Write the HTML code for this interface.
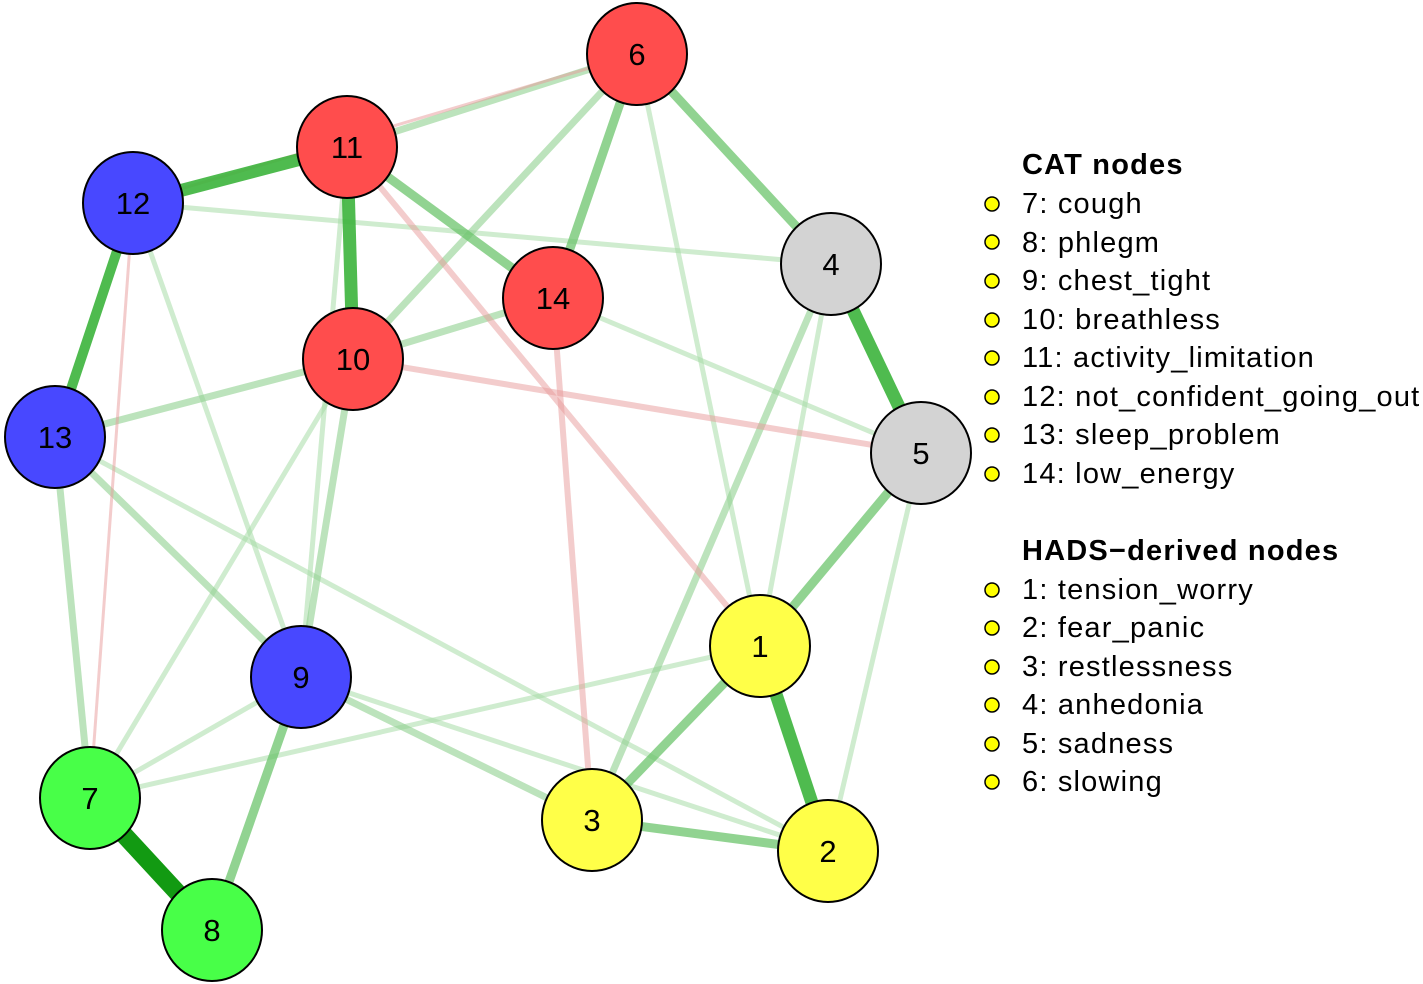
<!DOCTYPE html>
<html><head><meta charset="utf-8"><style>body{margin:0;background:#fff}svg{display:block}text{font-family:"Liberation Sans",sans-serif}</style></head><body>
<svg width="1423" height="984" viewBox="0 0 1423 984" xmlns="http://www.w3.org/2000/svg">
<g stroke-linecap="butt">
<g stroke="#a8dca8" stroke-opacity="0.55" stroke-width="5">
<line x1="637" y1="54" x2="760" y2="646"/>
<line x1="133" y1="203" x2="831" y2="264"/>
<line x1="133" y1="203" x2="301" y2="677"/>
<line x1="353" y1="359" x2="90" y2="798"/>
<line x1="553" y1="298" x2="921" y2="453"/>
<line x1="55" y1="437" x2="828" y2="851"/>
<line x1="831" y1="264" x2="760" y2="646"/>
<line x1="921" y1="453" x2="828" y2="851"/>
<line x1="301" y1="677" x2="828" y2="851"/>
<line x1="90" y1="798" x2="760" y2="646"/>
<line x1="90" y1="798" x2="301" y2="677"/>
<line x1="347" y1="147" x2="301" y2="677"/>
</g>
<g stroke="#8fd08f" stroke-opacity="0.6" stroke-width="7">
<line x1="347" y1="147" x2="637" y2="54"/>
<line x1="637" y1="54" x2="353" y2="359"/>
<line x1="831" y1="264" x2="592" y2="820"/>
<line x1="55" y1="437" x2="90" y2="798"/>
<line x1="55" y1="437" x2="301" y2="677"/>
<line x1="353" y1="359" x2="553" y2="298"/>
<line x1="353" y1="359" x2="301" y2="677"/>
<line x1="55" y1="437" x2="353" y2="359"/>
<line x1="301" y1="677" x2="592" y2="820"/>
</g>
<g stroke="#e89a9a" stroke-opacity="0.5" stroke-width="6">
<line x1="133" y1="203" x2="637" y2="54" stroke-width="3"/>
<line x1="133" y1="203" x2="90" y2="798" stroke-width="3"/>
<line x1="347" y1="147" x2="760" y2="646"/>
<line x1="353" y1="359" x2="921" y2="453"/>
<line x1="553" y1="298" x2="592" y2="820"/>
</g>
<g stroke="#6cc46c" stroke-opacity="0.75" stroke-width="9">
<line x1="637" y1="54" x2="831" y2="264"/>
<line x1="637" y1="54" x2="553" y2="298"/>
<line x1="921" y1="453" x2="760" y2="646"/>
<line x1="760" y1="646" x2="592" y2="820"/>
<line x1="592" y1="820" x2="828" y2="851"/>
<line x1="301" y1="677" x2="212" y2="930"/>
<line x1="347" y1="147" x2="553" y2="298"/>
</g>
<g stroke="#3cb43c" stroke-opacity="0.9" stroke-width="13">
<line x1="133" y1="203" x2="347" y2="147"/>
<line x1="347" y1="147" x2="353" y2="359"/>
<line x1="133" y1="203" x2="55" y2="437" stroke-width="10"/>
<line x1="831" y1="264" x2="921" y2="453"/>
<line x1="760" y1="646" x2="828" y2="851"/>
</g>
<line x1="90" y1="798" x2="212" y2="930" stroke="#129a12" stroke-width="18"/>
</g>
<g stroke="#000" stroke-width="2">
<ellipse cx="637" cy="54" rx="50" ry="51" fill="#ff4d4d"/>
<ellipse cx="347" cy="147" rx="50" ry="51" fill="#ff4d4d"/>
<ellipse cx="133" cy="203" rx="50" ry="51" fill="#4848ff"/>
<ellipse cx="831" cy="264" rx="50" ry="51" fill="#d3d3d3"/>
<ellipse cx="553" cy="298" rx="50" ry="51" fill="#ff4d4d"/>
<ellipse cx="353" cy="359" rx="50" ry="51" fill="#ff4d4d"/>
<ellipse cx="55" cy="437" rx="50" ry="51" fill="#4848ff"/>
<ellipse cx="921" cy="453" rx="50" ry="51" fill="#d3d3d3"/>
<ellipse cx="760" cy="646" rx="50" ry="51" fill="#ffff48"/>
<ellipse cx="301" cy="677" rx="50" ry="51" fill="#4848ff"/>
<ellipse cx="90" cy="798" rx="50" ry="51" fill="#48ff48"/>
<ellipse cx="592" cy="820" rx="50" ry="51" fill="#ffff48"/>
<ellipse cx="828" cy="851" rx="50" ry="51" fill="#ffff48"/>
<ellipse cx="212" cy="930" rx="50" ry="51" fill="#48ff48"/>
</g>
<g font-size="31" text-anchor="middle" fill="#000">
<text x="637" y="65">6</text><text x="347" y="158">11</text><text x="133" y="214">12</text>
<text x="831" y="275">4</text><text x="553" y="309">14</text><text x="353" y="370">10</text>
<text x="55" y="448">13</text><text x="921" y="464">5</text><text x="760" y="657">1</text>
<text x="301" y="688">9</text><text x="90" y="809">7</text><text x="592" y="831">3</text>
<text x="828" y="862">2</text><text x="212" y="941">8</text>
</g>
<g font-size="29" fill="#000" letter-spacing="1.2">
<text x="1022" y="174" font-weight="bold">CAT nodes</text>
<text x="1022" y="213">7: cough</text>
<text x="1022" y="252">8: phlegm</text>
<text x="1022" y="290">9: chest_tight</text>
<text x="1022" y="329">10: breathless</text>
<text x="1022" y="367">11: activity_limitation</text>
<text x="1022" y="406">12: not_confident_going_out</text>
<text x="1022" y="444">13: sleep_problem</text>
<text x="1022" y="483">14: low_energy</text>
<text x="1022" y="560" font-weight="bold">HADS−derived nodes</text>
<text x="1022" y="599">1: tension_worry</text>
<text x="1022" y="637">2: fear_panic</text>
<text x="1022" y="676">3: restlessness</text>
<text x="1022" y="714">4: anhedonia</text>
<text x="1022" y="753">5: sadness</text>
<text x="1022" y="791">6: slowing</text>
</g>
<g fill="#ffff00" stroke="#000" stroke-width="1.5">
<circle cx="992" cy="204" r="7"/><circle cx="992" cy="242" r="7"/><circle cx="992" cy="281" r="7"/>
<circle cx="992" cy="320" r="7"/><circle cx="992" cy="358" r="7"/><circle cx="992" cy="397" r="7"/>
<circle cx="992" cy="435" r="7"/><circle cx="992" cy="474" r="7"/>
<circle cx="992" cy="590" r="7"/><circle cx="992" cy="628" r="7"/><circle cx="992" cy="667" r="7"/>
<circle cx="992" cy="705" r="7"/><circle cx="992" cy="744" r="7"/><circle cx="992" cy="782" r="7"/>
</g>
</svg>
</body></html>
